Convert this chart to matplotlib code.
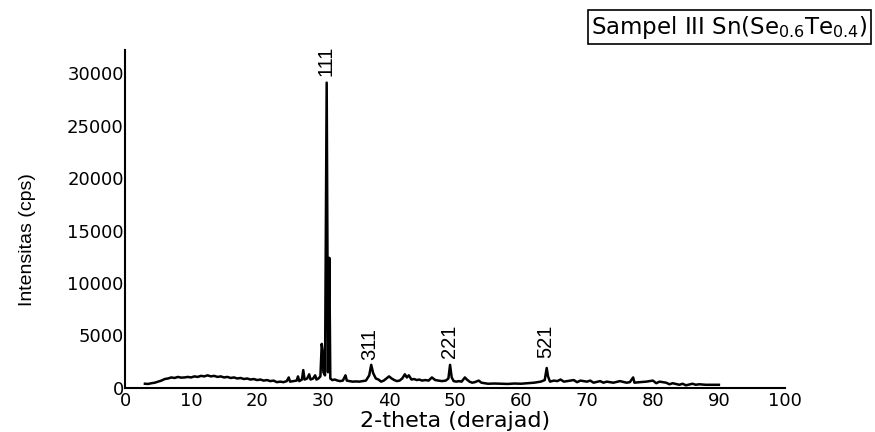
#!/usr/bin/env python3

"""XRD pattern of Sampel III Sn(Se0.6Te0.4)."""

import matplotlib
matplotlib.use("Agg")
import matplotlib.pyplot as plt
from matplotlib import font_manager

# 2-theta (degrees) and intensity (cps)
two_theta = [
    3.0, 3.5, 4.0, 4.5, 5.0, 5.5, 6.0, 6.5, 7.0, 7.5, 8.0, 8.5, 9.0, 9.5,
    10.0, 10.5, 11.0, 11.5, 12.0, 12.5, 13.0, 13.5, 14.0, 14.5, 15.0, 15.5,
    16.0, 16.5, 17.0, 17.5, 18.0, 18.5, 19.0, 19.5, 20.0, 20.5, 21.0, 21.5,
    22.0, 22.5, 23.0, 23.5, 24.0, 24.5, 24.8, 25.0, 25.5, 26.0, 26.2, 26.4,
    26.8, 27.0, 27.2, 27.6, 27.9, 28.1, 28.5, 28.8, 29.0, 29.3, 29.6, 29.8,
    29.95, 30.05, 30.3, 30.55, 30.75, 30.95, 31.1, 31.4, 31.8, 32.2, 32.6,
    33.0, 33.4, 33.6, 34.0, 34.5, 35.0, 35.5, 36.0, 36.5, 37.0, 37.3, 37.6,
    38.0, 38.4, 38.8, 39.2, 39.6, 40.0, 40.4, 40.8, 41.2, 41.6, 42.0, 42.4,
    42.7, 43.0, 43.4, 43.8, 44.2, 44.6, 45.0, 45.5, 46.0, 46.5, 47.0, 47.5,
    48.0, 48.6, 49.0, 49.25, 49.5, 49.8, 50.2, 50.6, 51.0, 51.5, 51.8, 52.2,
    52.6, 53.0, 53.6, 54.0, 54.5, 55.0, 56.0, 57.0, 58.0, 59.0, 60.0, 61.0,
    62.0, 63.0, 63.6, 63.9, 64.1, 64.4, 65.0, 65.5, 66.0, 66.5, 67.0, 68.0,
    68.5, 69.0, 70.0, 70.5, 71.0, 72.0, 72.5, 73.0, 74.0, 75.0, 76.0, 76.5,
    77.0, 77.2, 78.0, 79.0, 80.0, 80.5, 81.0, 82.0, 82.5, 83.0, 84.0, 84.5,
    85.0, 86.0, 86.5, 87.0, 88.0, 89.0, 90.0,
]
intensity = [
    400, 380, 450, 500, 600, 700, 850, 900, 1000, 950, 1050, 980, 1000, 1050,
    1000, 1100, 1050, 1150, 1100, 1200, 1100, 1150, 1050, 1100, 1000, 1050,
    950, 1000, 900, 950, 850, 900, 800, 850, 750, 800, 700, 750,
    650, 700, 550, 600, 550, 650, 1000, 600, 650, 700, 1100, 650,
    800, 1700, 800, 900, 1300, 800, 900, 1200, 800, 900, 1100, 4200,
    3500, 1500, 1200, 29100, 1500, 12400, 900, 750, 800, 700, 650,
    700, 1200, 700, 650, 600, 620, 600, 650, 700, 1200, 2200, 1400,
    900, 800, 600, 700, 900, 1100, 900, 750, 650, 700, 900, 1300,
    1000, 1200, 800, 850, 750, 800, 700, 750, 700, 1000, 750, 700,
    650, 700, 900, 2200, 1000, 650, 600, 650, 600, 1000, 800, 600,
    500, 550, 700, 500, 450, 400, 420, 400, 380, 420, 400, 450,
    500, 600, 750, 1900, 1100, 600, 700, 650, 800, 600, 650, 750,
    550, 700, 600, 700, 500, 650, 500, 600, 500, 650, 500, 550,
    1000, 500, 550, 600, 700, 450, 600, 500, 350, 450, 300, 400,
    250, 400, 300, 350, 300, 300, 300,
]

# Miller indices of the marked reflections
peak_labels = ["111", "311", "221", "521"]
peak_pos = [30.4, 37.1, 49.2, 63.8]
peak_label_y = [29700, 2700, 2850, 2850]

x_ticks = [0, 10, 20, 30, 40, 50, 60, 70, 80, 90, 100]
y_ticks = [0, 5000, 10000, 15000, 20000, 25000, 30000]

names = {f.name for f in font_manager.fontManager.ttflist}
narrow = "Liberation Sans Narrow" if "Liberation Sans Narrow" in names else "Liberation Sans"

plt.rcParams["font.family"] = ["DejaVu Sans"]

fig = plt.figure(figsize=(8.75, 4.32), dpi=100)
ax = fig.add_axes([0.143, 0.102, 0.754, 0.782])

ax.plot(two_theta, intensity, color="black", lw=1.8)

for lab, px, py in zip(peak_labels, peak_pos, peak_label_y):
    ax.text(px, py, lab, rotation=90, ha="center", va="bottom",
            fontsize=14.5, family=narrow, clip_on=False)

ax.set_xlim(0, 100)
ax.set_ylim(0, 32200)
ax.set_xticks(x_ticks)
ax.set_yticks(y_ticks)
ax.tick_params(length=0, labelsize=13, pad=1)
ax.tick_params(axis="x", pad=3)
for side in ("top", "right"):
    ax.spines[side].set_visible(False)
ax.spines["left"].set_linewidth(1.5)
ax.spines["bottom"].set_linewidth(1.5)

ax.set_xlabel("2-theta (derajad)", fontsize=16, labelpad=1)
ax.set_ylabel("Intensitas (cps)", fontsize=14, family=narrow)
ax.yaxis.set_label_coords(-0.135, 0.44)

fig.text(0.992, 0.937, r"Sampel III Sn(Se$_{0.6}$Te$_{0.4}$)",
         ha="right", va="center", fontsize=16.5,
         bbox=dict(boxstyle="square,pad=0.15", fc="white", ec="black", lw=1.2))

fig.savefig("out.png", dpi=100)
plt.close(fig)
